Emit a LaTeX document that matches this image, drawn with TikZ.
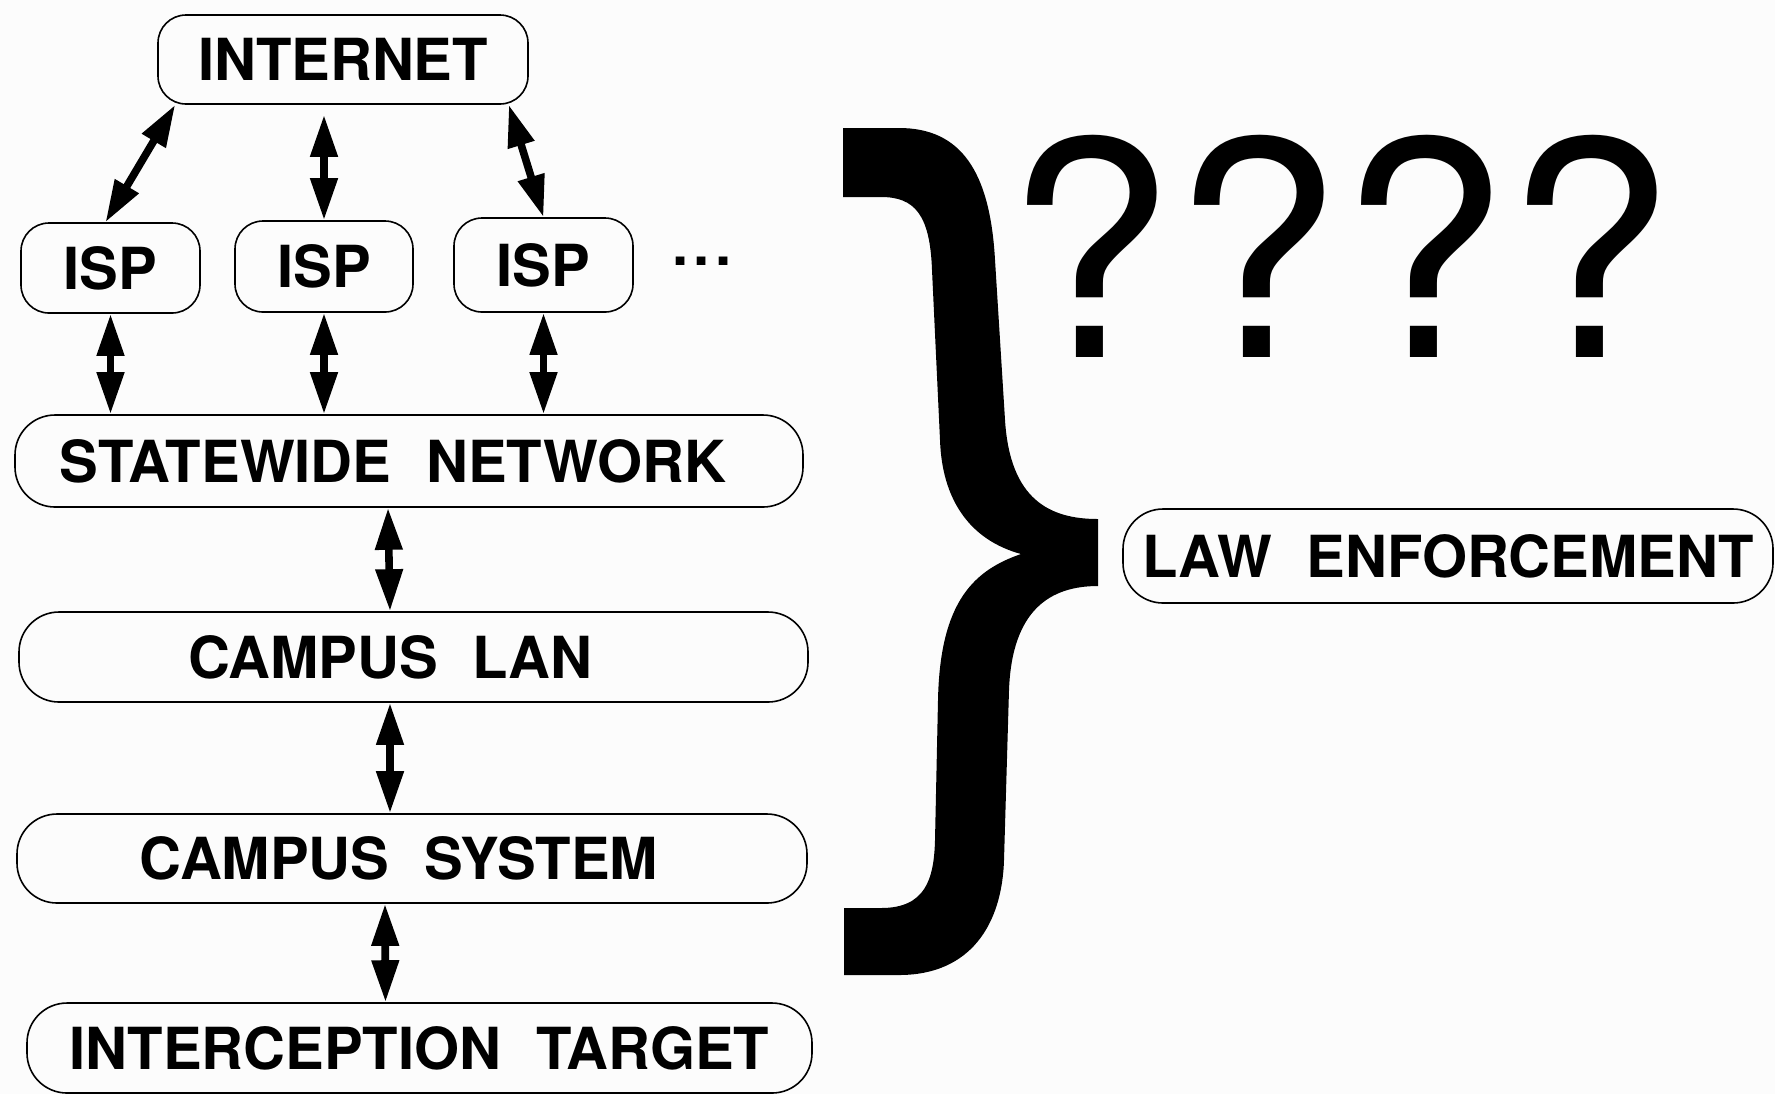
\documentclass[tikz,border=0pt]{standalone}
\usepackage{fontspec}
\usetikzlibrary{arrows.meta,calc}
\newfontfamily\labfont{TeX Gyre Heros}
\definecolor{bgc}{RGB}{252,252,252}
\newcommand{\wsp}{\hspace{0.6em}}
\newcommand{\padr}[1]{\rule{#1}{0pt}}
\begin{document}
\begin{tikzpicture}[x=0.5pt,y=-0.5pt,
  box/.style={draw=black, line width=0.8pt, fill=bgc, inner sep=0pt, text=black,
    font=\labfont\bfseries\fontsize{29pt}{30pt}\selectfont},
  smallbox/.style={box, rounded corners=14pt},
  bigbox/.style={box, rounded corners=20pt},
  link/.style={line width=3.8pt, {Triangle[length=21pt,width=13pt]}-{Triangle[length=21pt,width=13pt]}},
  qmarks/.style={anchor=base west, inner sep=0pt, font=\labfont\fontsize{150pt}{150pt}\selectfont},
  dots/.style={anchor=base, inner sep=0pt, font=\labfont\bfseries\fontsize{29pt}{30pt}\selectfont}
]
\fill[bgc] (0,0) rectangle (1775,1094);
\useasboundingbox (0,0) rectangle (1775,1094);

% nodes
\node[smallbox, minimum width=185pt, minimum height=44.5pt] (internet) at (343,59.5) {INTERNET};
\node[smallbox, minimum width=89.5pt, minimum height=45pt] (isp1) at (110.5,268) {ISP};
\node[smallbox, minimum width=89pt, minimum height=45.5pt] (isp2) at (324,266.5) {ISP};
\node[smallbox, minimum width=89.5pt, minimum height=47pt] (isp3) at (543.5,265) {ISP};
\node[dots] (more) at (702,265) {.\hspace{2.6pt}.\hspace{2.6pt}.};

\node[bigbox, minimum width=394pt, minimum height=46pt] (state) at (409,461) {STATEWIDE\wsp NETWORK\padr{16pt}};
\node[bigbox, minimum width=394.5pt, minimum height=45pt] (lan) at (413.5,657) {CAMPUS\wsp LAN\padr{23pt}};
\node[bigbox, minimum width=395pt, minimum height=44.5pt] (sys) at (412,858.5) {CAMPUS\wsp SYSTEM\padr{13pt}};
\node[bigbox, minimum width=392.5pt, minimum height=45pt] (target) at (419.5,1048) {INTERCEPTION\wsp TARGET};
\node[bigbox, minimum width=325pt, minimum height=47pt] (law) at (1448,556) {LAW\wsp ENFORCEMENT};

\node[qmarks] (qq) at (1006,357) {????};

% connectors
\draw[link] ([xshift=-2.5pt]isp1.north) -- ([xshift=9pt]internet.south west);
\draw[link] (isp2.north) -- ($(isp2.north |- internet.south)+(0,10)$);
\draw[link] (isp3.north) -- ([xshift=-10pt]internet.south east);

\draw[link] (isp1.south) -- (isp1.south |- state.north);
\draw[link] (isp2.south) -- (isp2.south |- state.north);
\draw[link] (isp3.south) -- (isp3.south |- state.north);

\draw[link] ([xshift=-10.5pt]state.south) -- ([xshift=-11.75pt]lan.north);
\draw[link] ([xshift=-11.75pt]lan.south) -- ([xshift=-11pt]sys.north);
\draw[link] ([xshift=-13.5pt]sys.south) -- ([xshift=-17pt]target.north);

% big brace
\fill[black] (843,128) -- (899,128)
  .. controls (960,128) and (990,170) .. (995,260)
  -- (1005,420)
  .. controls (1010,500) and (1050,519) .. (1098,519)
  -- (1098,586)
  .. controls (1050,586) and (1012,610) .. (1009,690)
  -- (1004,860)
  .. controls (1002,925) and (970,975) .. (899,975)
  -- (844,975) -- (844,908) -- (881,908)
  .. controls (925,908) and (934,880) .. (935,840)
  -- (938,700)
  .. controls (940,600) and (975,570) .. (1021,554)
  .. controls (970,540) and (942,500) .. (940,440)
  -- (932,270)
  .. controls (930,215) and (915,197) .. (881,197)
  -- (843,197) -- cycle;
\end{tikzpicture}
\end{document}
